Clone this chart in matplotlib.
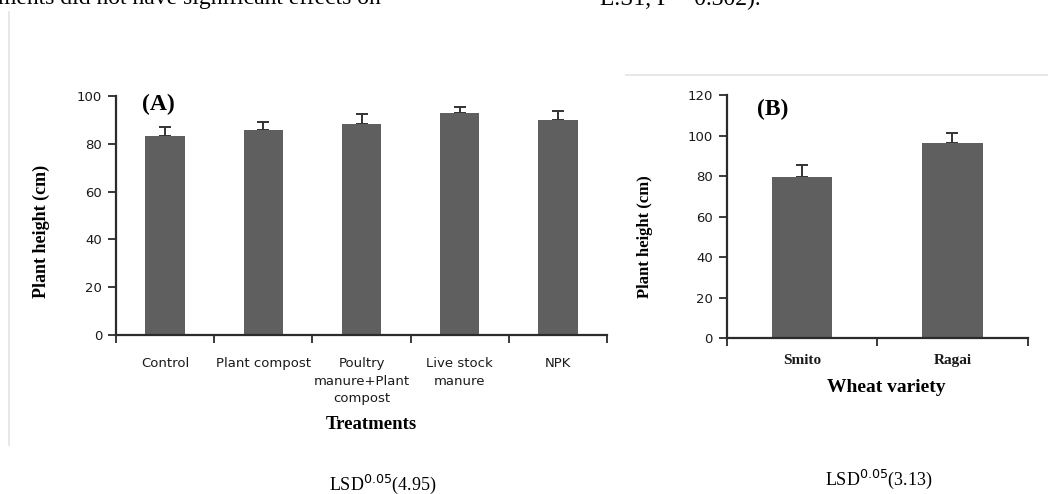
import numpy as np
import matplotlib.pyplot as plt
from matplotlib.lines import Line2D

# panel A: treatments
treatments = ['Control', 'Plant compost', 'Poultry\nmanure+Plant\ncompost',
              'Live stock\nmanure', 'NPK']
height_a = [83.4, 85.6, 88.2, 93.0, 90.0]
err_a = [3.7, 3.5, 4.1, 2.5, 3.9]

# panel B: wheat variety
varieties = ['Smito', 'Ragai']
height_b = [79.5, 96.2]
err_b = [6.0, 5.3]

W, H = 1048, 494
fig = plt.figure(figsize=(W / 100, H / 100), dpi=100)
fig.patch.set_facecolor('white')

bar_col = '#5f5f5f'
ax_col = '#2b2b2b'
serif = ['Liberation Serif', 'DejaVu Serif']


def px_axes(x0, x1, ytop, ybot):
    return fig.add_axes([x0 / W, 1 - ybot / H, (x1 - x0) / W, (ybot - ytop) / H])


def style(ax, n, ymax, step):
    ax.set_xlim(-0.5, n - 0.5)
    ax.set_ylim(0, ymax)
    for s in ['top', 'right']:
        ax.spines[s].set_visible(False)
    for s in ['left', 'bottom']:
        ax.spines[s].set_color(ax_col)
        ax.spines[s].set_linewidth(1.6)
    ax.set_yticks(np.arange(0, ymax + 1, step))
    ax.tick_params(axis='y', length=6, width=1.3, color=ax_col, labelsize=9.5,
                   labelcolor='#1a1a1a', pad=4)
    ax.set_xticks(np.arange(n))
    ax.set_xticks(np.arange(n + 1) - 0.5, minor=True)
    ax.tick_params(axis='x', which='major', length=0, pad=16)
    ax.tick_params(axis='x', which='minor', length=6, width=1.3, color=ax_col)


# ---- panel A
axA = px_axes(116, 607, 96, 335)
xa = np.arange(len(treatments))
axA.bar(xa, height_a, width=0.4, color=bar_col, zorder=2)
axA.errorbar(xa, height_a, yerr=[np.zeros(len(err_a)), err_a], fmt='none',
             ecolor='#333333', elinewidth=1.4, capsize=4, capthick=1.4, zorder=1)
style(axA, len(treatments), 100, 20)
axA.set_xticklabels(treatments, fontsize=9.5, color='#1a1a1a', linespacing=1.45,
                    va='top')
fig.text(41 / W, 1 - 231 / H, 'Plant height (cm)', rotation=90, ha='center',
         va='center', fontsize=13, fontweight='bold', family=serif)
fig.text(158 / W, 1 - 104 / H, '(A)', ha='center', va='center', fontsize=17,
         fontweight='bold', family=serif)
fig.text(371 / W, 1 - 424 / H, 'Treatments', ha='center', va='center',
         fontsize=13.5, fontweight='bold', family=serif)

# ---- panel B
axB = px_axes(726.7, 1027.7, 95, 338.3)
xb = np.arange(len(varieties))
axB.bar(xb, height_b, width=0.4, color=bar_col, zorder=2)
axB.errorbar(xb, height_b, yerr=[np.zeros(len(err_b)), err_b], fmt='none',
             ecolor='#333333', elinewidth=1.4, capsize=4, capthick=1.4, zorder=1)
style(axB, len(varieties), 120, 20)
axB.set_xticklabels(varieties, fontsize=11, color='#1a1a1a', family=serif,
                    fontweight='bold')
axB.tick_params(axis='x', which='major', pad=11)
fig.text(645 / W, 1 - 237 / H, 'Plant height (cm)', rotation=90, ha='center',
         va='center', fontsize=12, fontweight='bold', family=serif)
fig.text(773 / W, 1 - 109 / H, '(B)', ha='center', va='center', fontsize=17,
         fontweight='bold', family=serif)
fig.text(886 / W, 1 - 388 / H, 'Wheat variety', ha='center', va='center',
         fontsize=14, fontweight='bold', family=serif)

# LSD notes
fig.text(383 / W, 1 - 484 / H, r'LSD$^{0.05}$(4.95)', ha='center', va='center',
         fontsize=13, family=serif)
fig.text(879 / W, 1 - 479 / H, r'LSD$^{0.05}$(3.13)', ha='center', va='center',
         fontsize=13, family=serif)

# page text clipped at the top
fig.text(-2 / W, 1 + 1 / H, 'ments did not have significant effects on',
         ha='left', va='center', fontsize=17, family=serif)
fig.text(600 / W, 1 + 1 / H, 'L.S1, P = 0.302).', ha='left', va='center',
         fontsize=17, family=serif)

# faint frame lines from the page
fig.add_artist(Line2D([9 / W, 9 / W], [1 - 12 / H, 1 - 445 / H],
                      color='#e3e3e3', lw=1.2))
fig.add_artist(Line2D([626 / W, 1.0], [1 - 75 / H, 1 - 75 / H],
                      color='#e3e3e3', lw=1.2))

fig.savefig('out.png', dpi=100)
